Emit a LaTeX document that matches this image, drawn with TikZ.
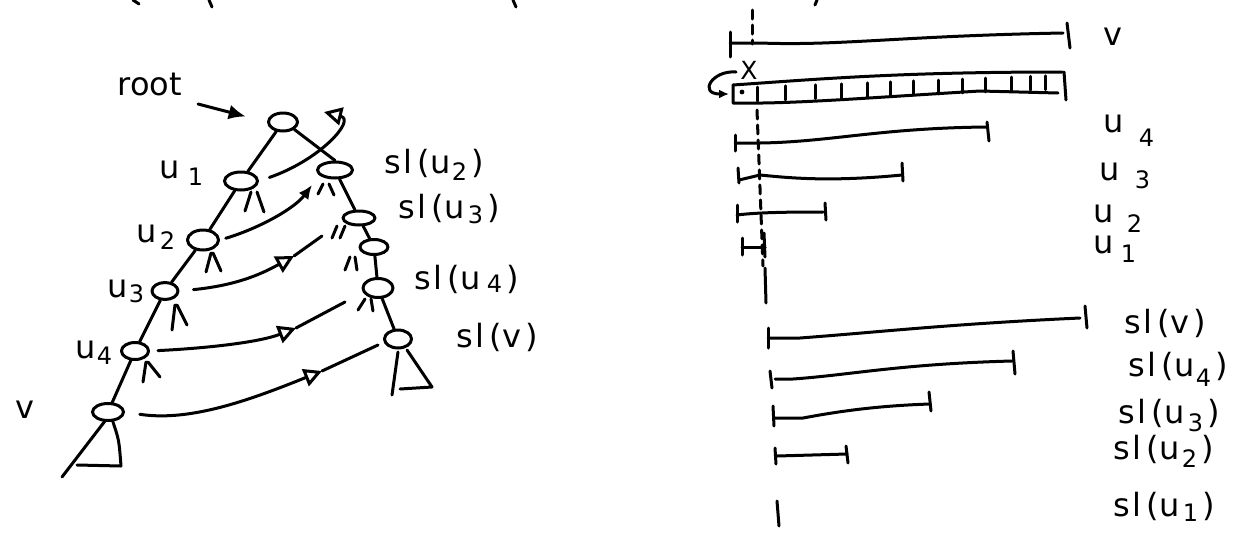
\documentclass[tikz,border=0pt]{standalone}
\usepackage{fontspec}
\setmainfont{DejaVu Sans}
\usetikzlibrary{shapes.geometric,arrows.meta}
\newcommand\lsub[2][-0.45ex]{\raisebox{#1}{\fontsize{24}{24}\selectfont #2}}
\newcommand\sll[1]{s\kern2pt l\kern5pt(\kern1pt #1\kern4pt)}
\begin{document}
\begin{tikzpicture}[x=1pt,y=-1pt,line width=3pt,line cap=round,line join=round]
\tikzset{
  nd/.style={ellipse, draw, minimum width=29pt, minimum height=18pt, inner sep=0pt},
  lbl/.style={inner sep=0pt, font=\fontsize{32}{34}\selectfont},
  filltip/.style={-{Latex[length=17pt,width=15pt]}},
  opentip/.style={-{Triangle[open,length=18pt,width=18pt]}},
}
\useasboundingbox (0,0) rectangle (1239,536);

% cut-off fragments at the top edge
\draw (133,0) -- (139,4);
\draw (209,0) -- (212,7);
\draw (513,0) -- (516,7);
\draw (817,0) -- (815,5);

% ---------------- left: tree ----------------
\node[nd] (root) at (283,122) {};
\node[nd, minimum width=33pt] (u1) at (241,181) {};
\node[nd, minimum width=31pt, minimum height=20pt] (u2) at (203,240) {};
\node[nd, minimum width=26pt, minimum height=17pt] (u3) at (165,291) {};
\node[nd, minimum width=27pt, minimum height=17pt] (u4) at (135,351) {};
\node[nd, minimum width=31pt, minimum height=17pt] (v) at (108,412) {};
\node[nd, minimum width=35pt, minimum height=16pt] (s2) at (335,170) {};
\node[nd, minimum width=32pt, minimum height=14pt] (s3) at (359,218) {};
\node[nd, minimum width=28pt, minimum height=15pt] (sx) at (374,247) {};
\node[nd, minimum width=30pt, minimum height=19pt] (s4) at (378,288) {};
\node[nd, minimum width=27pt, minimum height=18pt] (sv) at (398,339) {};

\draw (root) -- (u1);
\draw (u1) -- (u2);
\draw (u2) -- (u3);
\draw (u3) -- (u4);
\draw (u4) -- (v);
\draw (root.south east) -- (s2.north);
\draw (s2) -- (s3);
\draw (s3) -- (sx);
\draw (sx) -- (s4);
\draw (s4) -- (sv);

% child stubs
\draw (245,211) -- (251,192); \draw (257,192) -- (264,212);
\draw (206,272) -- (211,253); \draw (213,253) -- (221,271);
\draw (172,330) -- (175,305); \draw (177,305) -- (187,325);
\draw (143,382) -- (146,362); \draw (148,362) -- (160,377);
\draw (318,194) -- (323,184); \draw (329,184) -- (334,195);
\draw (332,238) -- (337,226); \draw (340,238) -- (345,226);
\draw (345,270) -- (350,257); \draw (355,257) -- (357,270);
\draw (358,310) -- (365,299); \draw (371,299) -- (373,311);

% subtrees
\draw (105,421) -- (62,477);
\draw (113,422) .. controls (119,440) .. (121,466) -- (77,465);
\draw (398,352) -- (392,395);
\draw (407,350) -- (432,387) -- (400,389);

% labels
\node[lbl] (rootl) at (150,84) {root};
\node[lbl, anchor=base west] (lu1) at (158,178) {u\kern8pt\lsub{1}};
\node[lbl, anchor=base west] (lu2) at (135,242) {u\kern3pt\lsub{2}};
\node[lbl, anchor=base west] (lu3) at (106,297) {u\kern1pt\lsub[-0.3ex]{3}};
\node[lbl, anchor=base west] (lu4) at (74,358) {u\kern1pt\lsub[-0.35ex]{4}};
\node[lbl, anchor=base west] (lv) at (14,418) {v};
\node[lbl, anchor=base west] (ls2) at (383,173) {\sll{u\kern1pt\lsub{2}}};
\node[lbl, anchor=base west] (ls3) at (397,218) {\sll{u\kern3pt\lsub[-0.3ex]{3}}};
\node[lbl, anchor=base west] (ls4) at (413,289) {\sll{u\kern6pt\lsub[-0.2ex]{4}}};
\node[lbl, anchor=base west] (lsv) at (455,347) {\sll{v}};

% arrows
\coordinate (ra) at (198,104);
\draw[filltip, shorten >=22pt] (ra) -- (root.west);
\coordinate (rl) at (324,112);
\draw[opentip, shorten <=11pt] (u1.east) .. controls (320,160) and (356,120) .. (rl);
\coordinate (a2) at (312,185);
\draw[-{Latex[length=14pt,width=12pt]}, shorten <=6pt] (u2.east) .. controls (260,228) and (295,208) .. (a2);
\coordinate (c3) at (294,256);
\coordinate (a3) at (322,236);
\draw[opentip, shorten <=14pt] (u3.east) .. controls (240,285) and (265,272) .. (c3);
\draw (c3) -- (a3);
\coordinate (c4) at (296,328);
\coordinate (a4) at (345,302);
\draw[opentip, shorten <=8pt] (u4.east) .. controls (210,348) and (260,342) .. (c4);
\draw (c4) -- (a4);
\coordinate (cv) at (322,371);
\coordinate (av) at (378,345);
\draw[opentip, shorten <=15pt] (v.east) .. controls (190,422) and (250,400) .. (cv);
\draw (cv) -- (av);

% ---------------- right: intervals ----------------
\draw[dash pattern=on 9pt off 6pt] (752,10) -- (752,44);
\draw[dash pattern=on 9pt off 6pt] (757,110) -- (763,266);
\draw (765,268) -- (766,303);

% v
\draw (730,32) -- (730,57);
\draw (730,43) -- (760,43) .. controls (840,46) and (900,36) .. (1063,33);
\draw (1067,23) -- (1070,48);
\node[lbl, anchor=base west] (rv) at (1102,45) {v};

% array
\draw (733,85) -- (733,103) .. controls (790,104) and (850,99) .. (980,91) -- (1058,93);
\draw (733,85) .. controls (820,79) and (900,72) .. (1062,72);
\draw (1064,72) -- (1066,100);
\foreach \x in {757,785,815,841,867,890,913,938,962,985,1011,1030,1045}
  \draw (\x,{85-0.039*(\x-733)+3}) -- (\x,{103-0.04*(\x-733)-1});
\node[inner sep=0pt, font=\fontsize{25}{25}\selectfont] (xl) at (749,70) {X};
\draw[-{Latex[length=10pt,width=9pt]}] (736,72) .. controls (712,70) and (698,94) .. (729,94);
\fill (742,92) circle (2.4pt);

% u4
\draw (735,135) -- (735,151);
\draw (735,143) -- (760,143) .. controls (830,142) and (880,128) .. (987,127);
\draw (987,122) -- (989,141);
\node[lbl, anchor=base west] (ru4) at (1102,132) {u\kern15pt\lsub[-0.8ex]{4}};
% u3
\draw (738,168) -- (739,183);
\draw (739,180) -- (760,175) .. controls (790,178) and (830,182) .. (902,175);
\draw (902,163) -- (903,181);
\node[lbl, anchor=base west] (ru3) at (1098,180) {u\kern15pt\lsub[-0.5ex]{3}};
% u2
\draw (737,205) -- (737,222);
\draw (737,215) .. controls (760,212) and (800,212) .. (823,212);
\draw (825,203) -- (826,220);
\node[lbl, anchor=base west] (ru2) at (1092,222) {u\kern13pt\lsub[-0.6ex]{2}};
% u1
\draw (742,238) -- (742,255);
\draw (742,247) -- (765,247);
\draw (764,233) -- (765,257);
\node[lbl, anchor=base west] (ru1) at (1092,253) {u\kern7pt\lsub[-0.55ex]{1}};

% sl(v)
\draw (768,328) -- (768,348);
\draw (768,338) -- (800,338) .. controls (880,332) and (950,324) .. (1080,318);
\draw (1085,306) -- (1087,328);
\node[lbl, anchor=base west] (rsv) at (1123,333) {\sll{v}};
% sl(u4)
\draw (770,371) -- (772,388);
\draw (775,379) -- (793,379) .. controls (850,375) and (900,364) .. (1012,361);
\draw (1013,351) -- (1015,374);
\node[lbl, anchor=base west] (rs4) at (1127,376) {\sll{u\kern1pt\lsub[-0.6ex]{4}}};
% sl(u3)
\draw (773,406) -- (774,426);
\draw (774,418) -- (803,418) .. controls (830,413) and (870,406) .. (930,404);
\draw (929,392) -- (931,411);
\node[lbl, anchor=base west] (rs3) at (1117,423) {\sll{u\kern3pt\lsub[-0.5ex]{3}}};
% sl(u2)
\draw (775,448) -- (776,464);
\draw (777,456) -- (847,454);
\draw (846,446) -- (848,463);
\node[lbl, anchor=base west] (rs2) at (1112,459) {\sll{u\kern2pt\lsub[-0.5ex]{2}}};
% sl(u1)
\draw (777,501) -- (779,526);
\node[lbl, anchor=base west] (rs1) at (1112,516) {\sll{u\kern3pt\lsub[-0.3ex]{1}}};
\end{tikzpicture}
\end{document}
